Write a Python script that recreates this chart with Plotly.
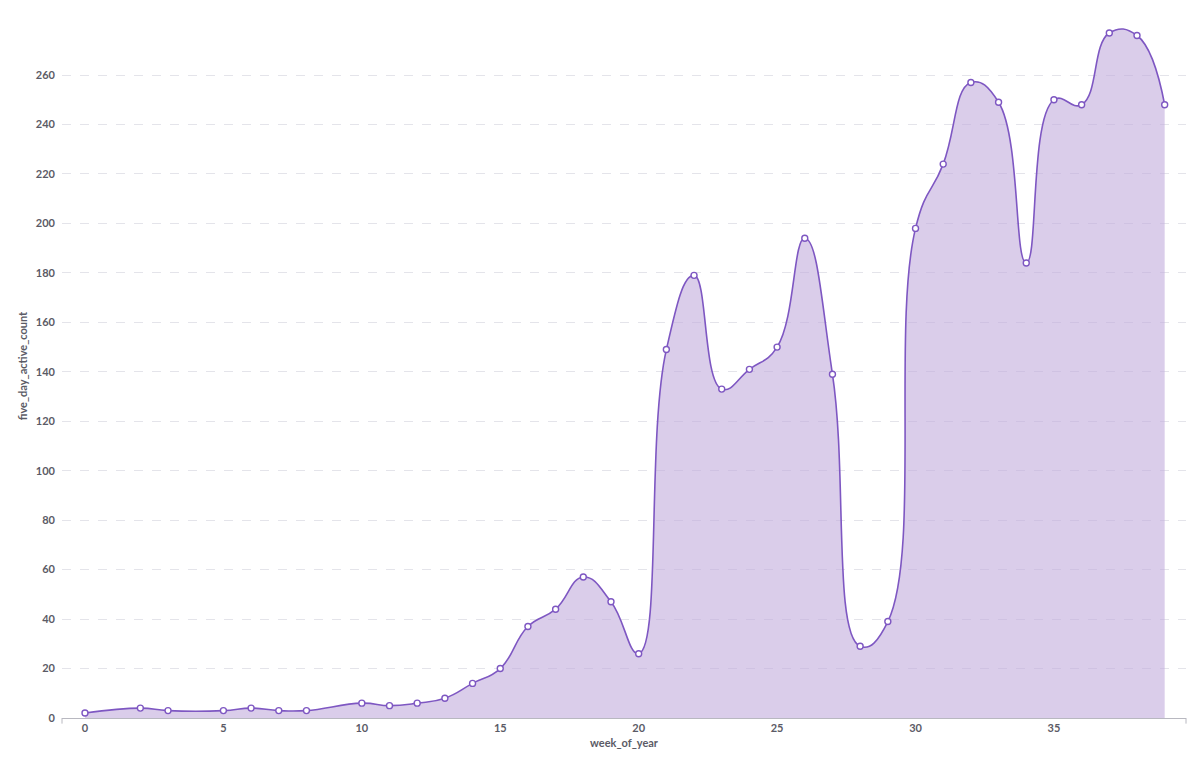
import plotly.graph_objects as go

weeks = [0, 2, 3, 5, 6, 7, 8, 10, 11, 12, 13, 14, 15, 16, 17, 18, 19, 20,
         21, 22, 23, 24, 25, 26, 27, 28, 29, 30, 31, 32, 33, 34, 35, 36, 37, 38, 39]
counts = [2, 4, 3, 3, 4, 3, 3, 6, 5, 6, 8, 14, 20, 37, 44, 57, 47, 26,
          149, 179, 133, 141, 150, 194, 139, 29, 39, 198, 224, 257, 249, 184, 250, 248, 277, 276, 248]
y_ticks = [0, 20, 40, 60, 80, 100, 120, 140, 160, 180, 200, 220, 240, 260]
x_ticks = [0, 5, 10, 15, 20, 25, 30, 35]

LINE = "#7e57c2"
FILL = "rgba(194,172,220,0.6)"
TXT = "#5b5b66"
FONT = "Lato, 'Open Sans', sans-serif"

fig = go.Figure()
fig.add_trace(go.Scatter(
    x=weeks, y=counts, mode="lines+markers",
    line=dict(color=LINE, width=1.6, shape="spline", smoothing=1.3),
    fill="tozeroy", fillcolor=FILL,
    marker=dict(size=6, color="white", line=dict(color=LINE, width=1.4)),
    hoverinfo="x+y", showlegend=False,
))

# page body has an 8px margin, so the figure is sized/offset to compensate
fig.update_layout(
    width=1184, height=747,
    margin=dict(l=54, r=6, t=6, b=37),
    paper_bgcolor="white", plot_bgcolor="white",
    font=dict(family=FONT, color=TXT, size=11),
)
fig.update_xaxes(
    automargin=False,
    range=[-0.83, 39.77], tickvals=x_ticks, ticktext=[str(v) for v in x_ticks],
    showgrid=False, zeroline=False,
    showline=True, linecolor="#b8b8c0", linewidth=1,
    ticks="", ticklabelstandoff=0,
    tickfont=dict(family=FONT, size=11, color=TXT, weight="bold"),
    title=dict(text="week_of_year", standoff=6,
               font=dict(family=FONT, size=11, color=TXT, weight="bold")),
)
fig.update_yaxes(
    automargin=False,
    range=[0, 284.7], tickvals=y_ticks, ticktext=[str(v) for v in y_ticks],
    showgrid=True, gridcolor="#e4e4ea", griddash="dash", gridwidth=1,
    zeroline=False, showline=False, ticks="", ticklabelstandoff=6,
    tickfont=dict(family=FONT, size=11, color=TXT, weight="bold"),
    title=dict(text="five_day_active_count", standoff=6,
               font=dict(family=FONT, size=11, color=TXT, weight="bold")),
)
# small end caps on the x axis line
for xp in [0, 1]:
    fig.add_shape(type="line", xref="paper", yref="paper", x0=xp, x1=xp,
                  y0=0, y1=-0.008, line=dict(color="#b8b8c0", width=1))

fig.write_html("out.html")
